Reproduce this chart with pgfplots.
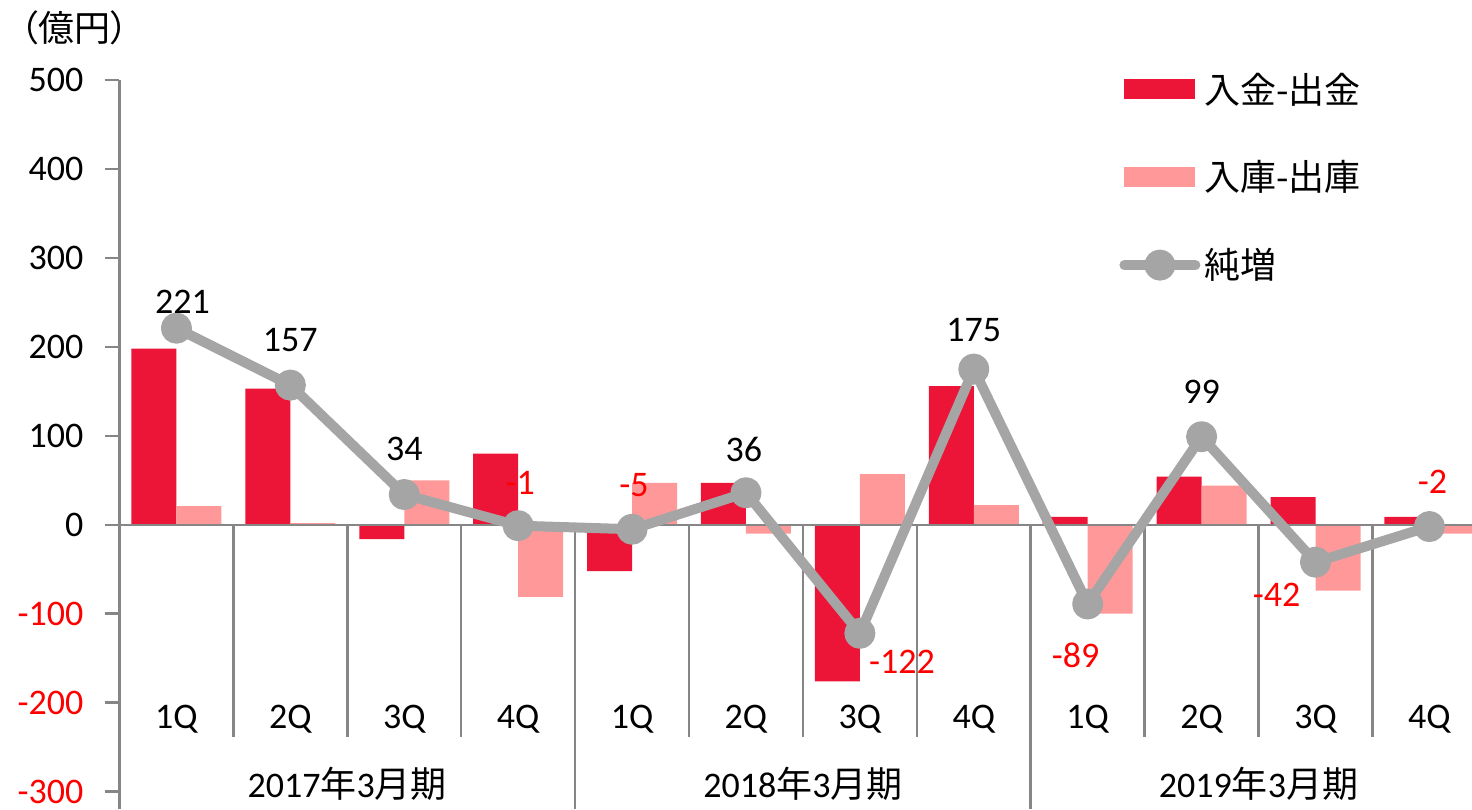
\documentclass[border=0pt]{standalone}
\usepackage{pgfplots}
\pgfplotsset{compat=1.18}
\usepackage{fontspec}
\setmainfont{Carlito}
\newfontfamily\jp{Noto Sans CJK JP}
\newfontfamily\jpp{Noto Sans CJK JP}[RawFeature=+palt]
\definecolor{barA}{RGB}{236,20,55}
\definecolor{barB}{RGB}{255,153,153}
\definecolor{lineC}{RGB}{165,165,165}
\definecolor{axisC}{RGB}{134,134,134}
\newcommand{\fs}{\fontsize{18}{21}\selectfont}
\begin{document}
\begin{tikzpicture}
\begin{axis}[
  scale only axis, width=676.25pt, height=364.5pt,
  at={(0pt,0pt)}, anchor=south west,
  xmin=-0.5, xmax=11.374, ymin=-319.5, ymax=500,
  axis y line*=left, axis x line=none,
  clip mode=individual,
  y axis line style={axisC, line width=1.25pt},
  ytick={-300,-200,-100,0,100,200,300,400,500},
  yticklabels={\textcolor{red}{-300},\textcolor{red}{-200},\textcolor{red}{-100},0,100,200,300,400,500},
  tick align=outside, major tick length=7.5pt,
  ytick style={axisC, line width=1.25pt},
  yticklabel style={font=\fs, xshift=-7pt, inner ysep=1pt},
  legend style={at={(0.739,1.016)}, anchor=north west, draw=none, fill=none,
    font=\jp\fs, row sep=23.3pt, inner sep=0pt},
  legend cell align=left,
]
% 入金-出金
\addplot[ybar, bar width=0.395, bar shift=-0.1975, fill=barA, draw=none,
  legend image code/.code={\fill[barA] (0pt,-5pt) rectangle (35.5pt,5pt);}]
  coordinates {(0,198) (1,153) (2,-16) (3,80) (4,-52) (5,47) (6,-176) (7,156) (8,9) (9,54) (10,31) (11,9)};
% 入庫-出庫
\addplot[ybar, bar width=0.395, bar shift=0.1975, fill=barB, draw=none,
  legend image code/.code={\fill[barB] (0pt,-5pt) rectangle (35.5pt,5pt);}]
  coordinates {(0,21) (1,2) (2,50) (3,-81) (4,47) (5,-10) (6,57) (7,22) (8,-100) (9,44) (10,-74) (11,-10)};
% zero line and category separators
\draw[axisC, line width=1.25pt] (axis cs:-0.5,0) -- (axis cs:11.374,0);
\draw[axisC, line width=1.25pt]
  (axis cs:0.5,0) -- (axis cs:0.5,-238) (axis cs:1.5,0) -- (axis cs:1.5,-238)
  (axis cs:2.5,0) -- (axis cs:2.5,-238) (axis cs:4.5,0) -- (axis cs:4.5,-238)
  (axis cs:5.5,0) -- (axis cs:5.5,-238) (axis cs:6.5,0) -- (axis cs:6.5,-238)
  (axis cs:8.5,0) -- (axis cs:8.5,-238) (axis cs:9.5,0) -- (axis cs:9.5,-238)
  (axis cs:10.5,0) -- (axis cs:10.5,-238)
  (axis cs:3.5,0) -- (axis cs:3.5,-319.5) (axis cs:7.5,0) -- (axis cs:7.5,-319.5);
% 純増
\addplot[lineC, line width=5pt, line join=round, mark=*, mark size=5.25pt,
  mark options={fill=lineC, draw=none},
  legend image code/.code={
    \draw[lineC, line width=5pt, line cap=round] (0pt,0pt) -- (35.5pt,0pt);
    \draw[mark repeat=2, mark phase=2] plot coordinates {(0pt,0pt) (17.75pt,0pt) (35.5pt,0pt)};}]
  coordinates {(0,221) (1,157) (2,34) (3,-1) (4,-5) (5,36) (6,-122) (7,175) (8,-89) (9,99) (10,-42) (11,-2)};
\legend{入金-出金, 入庫-出庫, 純増}
% data labels
\begin{scope}[every node/.style={font=\fs}]
\node[xshift=3pt, yshift=13pt] at (axis cs:0,221) {221};
\node[yshift=22.5pt] at (axis cs:1,157) {157};
\node[yshift=23pt] at (axis cs:2,34) {34};
\node[red, xshift=1pt, yshift=21.5pt] at (axis cs:3,-1) {-1};
\node[red, xshift=1pt, yshift=22pt] at (axis cs:4,-5) {-5};
\node[xshift=-1pt, yshift=21.5pt] at (axis cs:5,36) {36};
\node[red, xshift=21pt, yshift=-14.5pt] at (axis cs:6,-122) {-122};
\node[yshift=19.5pt] at (axis cs:7,175) {175};
\node[red, xshift=-6pt, yshift=-25.5pt] at (axis cs:8,-89) {-89};
\node[yshift=22.5pt] at (axis cs:9,99) {99};
\node[red, xshift=-19.5pt, yshift=-16.5pt] at (axis cs:10,-42) {-42};
\node[red, xshift=1.5pt, yshift=22.5pt] at (axis cs:11,-2) {-2};
% category labels
\node[anchor=base] at (axis cs:0,-229) {1Q};
\node[anchor=base] at (axis cs:1,-229) {2Q};
\node[anchor=base] at (axis cs:2,-229) {3Q};
\node[anchor=base] at (axis cs:3,-229) {4Q};
\node[anchor=base] at (axis cs:4,-229) {1Q};
\node[anchor=base] at (axis cs:5,-229) {2Q};
\node[anchor=base] at (axis cs:6,-229) {3Q};
\node[anchor=base] at (axis cs:7,-229) {4Q};
\node[anchor=base] at (axis cs:8,-229) {1Q};
\node[anchor=base] at (axis cs:9,-229) {2Q};
\node[anchor=base] at (axis cs:10,-229) {3Q};
\node[anchor=base] at (axis cs:11,-229) {4Q};
\node[anchor=base] at (axis cs:1.5,-307) {2017{\jp 年}3{\jp 月期}};
\node[anchor=base] at (axis cs:5.5,-307) {2018{\jp 年}3{\jp 月期}};
\node[anchor=base] at (axis cs:9.5,-307) {2019{\jp 年}3{\jp 月期}};
\node[font=\jpp\fs, xshift=-22.5pt, yshift=26pt] at (rel axis cs:0,1) {（億円）};
\end{scope}
\end{axis}
\pgfresetboundingbox
\path (-59.75pt,0pt) rectangle (676.25pt,404.5pt);
\end{tikzpicture}
\end{document}
